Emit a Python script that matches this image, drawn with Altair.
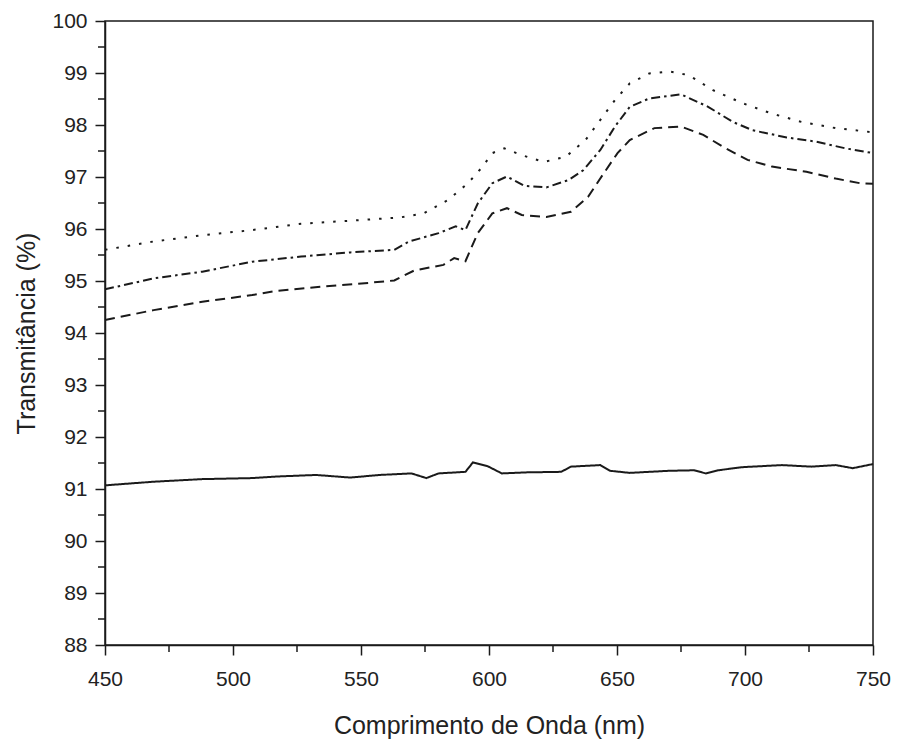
import altair as alt
import pandas as pd

# Dotted series (top)
dot_nm = [450, 469, 488, 507.5, 526.6, 545.8, 565, 574.5, 584, 591.8, 597.5, 601.3, 606, 612.8, 621.5, 630,
          637.7, 643.5, 649.2, 655, 662.6, 670.3, 678, 687.5, 699, 710.5, 722, 735.4, 750]
dot_v = [95.60, 95.76, 95.88, 95.98, 96.10, 96.16, 96.22, 96.30, 96.56, 96.88, 97.20, 97.46, 97.55, 97.42, 97.29, 97.39,
         97.71, 98.10, 98.48, 98.80, 98.99, 99.03, 98.96, 98.67, 98.42, 98.22, 98.06, 97.94, 97.86]

# Dash-dot series
dd_nm = [450, 469, 488, 507.5, 517, 526.6, 545.8, 563, 568.8, 580.3, 587, 590.8, 595.6, 601.3, 607, 613.8, 622.4,
         631, 636.8, 643.5, 649.2, 655, 662.6, 675, 685.6, 695.2, 702.9, 716.3, 727.8, 739.3, 750]
dd_v = [94.84, 95.05, 95.18, 95.37, 95.42, 95.47, 95.55, 95.60, 95.76, 95.92, 96.05, 95.98, 96.49, 96.88, 97.01, 96.83, 96.80,
        96.94, 97.13, 97.52, 97.97, 98.35, 98.51, 98.59, 98.35, 98.06, 97.90, 97.76, 97.68, 97.55, 97.46]

# Dashed series
da_nm = [450, 469, 488, 507.5, 517, 536.2, 547.7, 563, 570.7, 582.2, 586.4, 590.8, 595.6, 601.3, 607, 612.8, 622.4,
         632, 638.7, 644.4, 650.2, 655, 664.6, 675, 683.7, 691.4, 701, 710.5, 724, 735.4, 745, 750]
da_v = [94.25, 94.44, 94.60, 94.73, 94.81, 94.90, 94.94, 95.01, 95.20, 95.31, 95.44, 95.38, 95.92, 96.30, 96.40, 96.27, 96.23,
        96.33, 96.62, 97.04, 97.46, 97.71, 97.94, 97.97, 97.81, 97.58, 97.33, 97.20, 97.10, 96.97, 96.88, 96.87]

# Solid series (bottom)
so_nm = [450, 469, 488, 507.5, 517, 532.4, 545.8, 557.3, 569.7, 575.5, 580.3, 590.8, 593.7, 599.4, 605, 614.8, 628.2,
         632, 643.5, 647.3, 655, 670.3, 680, 684.7, 689.5, 699, 714.4, 725.9, 735.4, 742.1, 750]
so_v = [91.07, 91.14, 91.19, 91.21, 91.24, 91.27, 91.22, 91.27, 91.30, 91.21, 91.30, 91.33, 91.51, 91.44, 91.30, 91.32, 91.33,
        91.43, 91.46, 91.35, 91.31, 91.35, 91.36, 91.30, 91.36, 91.42, 91.46, 91.43, 91.46, 91.40, 91.48]

x_ticks = [450, 500, 550, 600, 650, 700, 750]
y_ticks = [88, 89, 90, 91, 92, 93, 94, 95, 96, 97, 98, 99, 100]
x_minor = [475, 525, 575, 625, 675, 725]
y_minor = [88.5, 89.5, 90.5, 91.5, 92.5, 93.5, 94.5, 95.5, 96.5, 97.5, 98.5, 99.5]

series_names = ["dotted", "dashdot", "dashed", "solid"]
frames = []
for name, xs, ys in zip(series_names, [dot_nm, dd_nm, da_nm, so_nm], [dot_v, dd_v, da_v, so_v]):
    frames.append(pd.DataFrame({"nm": xs, "T": ys, "s": name}))
df = pd.concat(frames, ignore_index=True)

FONT = "Liberation Sans"
xscale = alt.Scale(domain=[450, 750], nice=False, zero=False)
yscale = alt.Scale(domain=[88, 100], nice=False, zero=False)

lines = alt.Chart(df).mark_line(color="#1a1a1a", strokeWidth=2).encode(
    x=alt.X("nm:Q", scale=xscale,
            axis=alt.Axis(values=x_ticks, title="Comprimento de Onda (nm)", grid=False,
                          tickSize=10, tickWidth=1.5, tickColor="#1a1a1a",
                          domainColor="#1a1a1a", domainWidth=1.5,
                          labelFont=FONT, labelFontSize=21, labelColor="#222", labelPadding=13,
                          titleFont=FONT, titleFontSize=25, titleFontWeight="normal", titleColor="#222",
                          titlePadding=24, labelFlush=False)),
    y=alt.Y("T:Q", scale=yscale,
            axis=alt.Axis(values=y_ticks, title="Transmitância (%)", grid=False,
                          tickSize=10, tickWidth=1.5, tickColor="#1a1a1a",
                          domainColor="#1a1a1a", domainWidth=1.5,
                          labelFont=FONT, labelFontSize=21, labelColor="#222", labelPadding=8,
                          titleFont=FONT, titleFontSize=25, titleFontWeight="normal", titleColor="#222",
                          titlePadding=12, labelFlush=False)),
    strokeDash=alt.StrokeDash("s:N", scale=alt.Scale(domain=series_names,
                                                      range=[[2.5, 9], [9, 4, 2.5, 4], [10, 6], [1, 0]]),
                              legend=None),
    detail="s:N",
)

xminor = alt.Chart(pd.DataFrame({"nm": x_minor})).mark_rule(color="#1a1a1a", strokeWidth=1.5).encode(
    x=alt.X("nm:Q", scale=xscale),
    y=alt.value(624), y2=alt.value(631),
)
yminor = alt.Chart(pd.DataFrame({"T": y_minor})).mark_rule(color="#1a1a1a", strokeWidth=1.5).encode(
    y=alt.Y("T:Q", scale=yscale),
    x=alt.value(0), x2=alt.value(-7),
)

chart = alt.layer(lines, xminor, yminor).properties(
    width=768, height=624,
    autosize=alt.AutoSizeParams(type="none"),
    padding={"left": 97, "top": 13, "right": 18, "bottom": 95},
).configure(background="white").configure_view(stroke="#1a1a1a", strokeWidth=1.5)

chart.save("out.html", embed_options={"renderer": "svg", "actions": False})
